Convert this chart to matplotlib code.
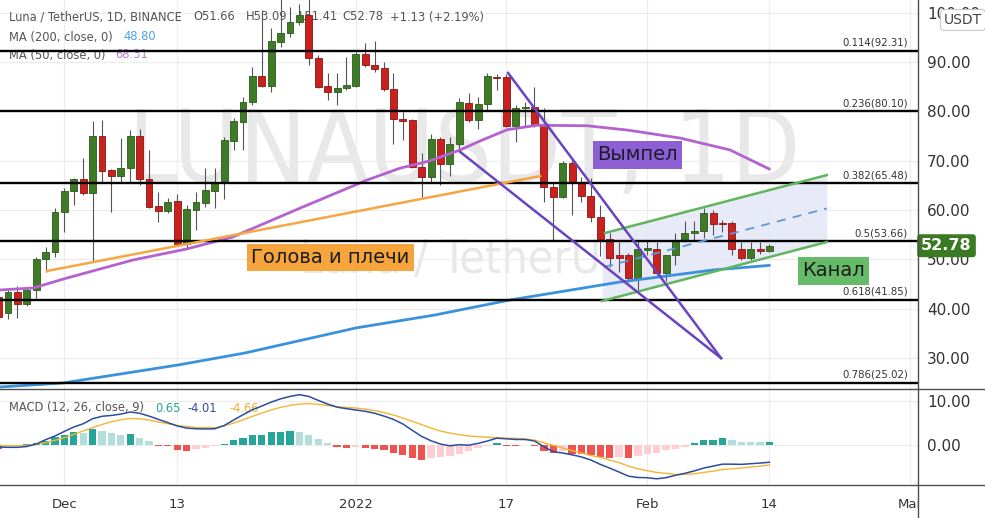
import matplotlib
matplotlib.use("Agg")
import matplotlib.pyplot as plt
import numpy as np
from matplotlib import font_manager
from matplotlib.lines import Line2D
from matplotlib.patches import Rectangle
from matplotlib.transforms import blended_transform_factory

W, H = 985, 518

# daily LUNA/USDT candles, index -1 = 2021-11-24 ... index 81 = 2022-02-14
FIRST = -1
opens = [42.4, 39.1, 43.4, 41.0, 43.8, 50.1, 51.5, 59.6, 63.9, 66.3,
         63.5, 75.0, 68.1, 66.9, 68.5, 75.0, 66.3, 60.8, 59.8, 61.8,
         53.1, 60.0, 61.4, 63.9, 65.5, 74.0, 77.9, 81.9, 87.2, 85.2,
         94.1, 95.9, 98.1, 99.5, 90.8, 85.2, 84.0, 84.8, 85.2, 91.6,
         89.4, 88.8, 84.5, 78.4, 78.2, 68.7, 66.7, 74.4, 69.3, 73.4,
         81.7, 78.2, 81.5, 87.0, 87.0, 77.0, 80.6, 80.9, 77.3, 64.7,
         62.7, 69.5, 65.7, 62.9, 58.6, 54.1, 50.9, 50.9, 46.2, 51.9,
         52.1, 47.2, 50.9, 53.9, 55.3, 55.8, 59.4, 57.3, 57.4, 52.1,
         50.3, 52.1, 51.66]
highs = [43.0, 43.8, 44.6, 44.3, 50.5, 52.5, 60.4, 64.5, 66.5, 70.6,
         78.1, 78.3, 68.3, 74.6, 76.2, 76.4, 72.2, 63.7, 62.5, 63.3,
         61.0, 63.7, 68.5, 68.5, 74.8, 78.7, 82.9, 89.0, 100.5, 96.9,
         102.8, 101.2, 101.8, 103.6, 91.5, 87.8, 87.8, 91.0, 92.0, 93.8,
         94.2, 90.0, 87.8, 79.9, 78.4, 71.6, 75.4, 74.8, 74.8, 82.7,
         83.7, 82.9, 87.8, 87.6, 87.6, 81.3, 81.9, 85.0, 80.7, 65.5,
         70.0, 70.2, 66.7, 66.5, 61.0, 55.3, 53.5, 51.3, 53.9, 53.9,
         53.5, 51.0, 55.3, 57.8, 57.8, 60.4, 60.0, 58.0, 57.8, 53.5,
         53.5, 53.5, 53.09]
lows = [37.6, 38.0, 38.1, 40.6, 42.2, 47.5, 50.5, 55.6, 61.0, 63.1,
        49.5, 65.7, 59.6, 65.7, 65.5, 65.1, 60.4, 57.6, 59.4, 52.7,
        52.3, 56.0, 60.6, 60.5, 62.2, 72.2, 72.2, 81.3, 85.0, 84.0,
        93.0, 95.1, 97.5, 89.4, 84.8, 82.3, 81.3, 84.3, 85.0, 89.0,
        88.0, 84.2, 73.4, 74.2, 68.5, 62.7, 65.7, 65.1, 66.9, 72.2,
        77.9, 76.4, 80.3, 84.4, 76.8, 73.8, 76.8, 76.8, 61.7, 53.9,
        62.5, 59.0, 61.7, 57.6, 50.7, 48.5, 47.5, 45.5, 43.8, 50.9,
        46.8, 45.6, 48.9, 53.5, 54.0, 54.3, 54.9, 55.6, 50.9, 49.9,
        49.9, 51.1, 51.41]
closes = [38.3, 43.4, 41.0, 43.8, 50.1, 51.5, 59.6, 63.9, 66.3, 63.5,
          75.0, 67.9, 66.9, 68.5, 75.0, 66.3, 60.6, 59.8, 61.6, 53.1,
          60.2, 61.6, 64.1, 65.5, 74.2, 78.1, 81.9, 87.2, 85.2, 94.3,
          95.9, 98.1, 99.5, 90.8, 85.0, 83.9, 84.8, 85.4, 91.6, 89.4,
          88.6, 84.5, 78.4, 78.0, 68.7, 66.7, 74.4, 69.3, 73.4, 81.9,
          78.2, 81.5, 87.2, 86.8, 77.0, 80.7, 80.8, 77.3, 64.7, 62.7,
          69.5, 65.5, 62.9, 58.6, 54.1, 50.3, 50.3, 46.2, 52.1, 52.3,
          47.2, 50.9, 53.9, 55.3, 55.8, 59.4, 57.2, 57.1, 52.1, 50.3,
          52.1, 51.65, 52.78]

# MACD(12, 26, 9)
macd = [-0.53, -0.6, -0.6, -0.4, 0.15, 1.15, 2.0, 3.05, 4.05, 4.8,
        5.95, 6.5, 6.7, 7.0, 7.5, 7.2, 6.55, 5.8, 5.05, 4.3,
        3.8, 3.65, 3.6, 3.65, 4.4, 5.65, 6.85, 8.0, 8.85, 9.75,
        10.5, 11.05, 11.45, 11.05, 10.15, 9.3, 8.6, 8.25, 7.95, 7.65,
        7.2, 6.55, 5.8, 4.75, 3.3, 1.9, 0.9, 0.15, -0.25, 0.0,
        -0.1, 0.3, 0.85, 1.5, 1.35, 1.2, 1.2, 0.85, -0.45, -1.6,
        -1.9, -2.3, -2.8, -3.5, -4.5, -5.35, -6.25, -7.2, -7.5, -7.55,
        -7.8, -7.55, -7.0, -6.55, -6.0, -5.35, -4.9, -4.45, -4.45, -4.5,
        -4.35, -4.2, -4.01]
signal = [-0.15, -0.25, -0.25, -0.15, 0.1, 0.45, 1.0, 1.6, 2.35, 3.15,
          3.9, 4.65, 5.25, 5.7, 6.0, 5.95, 5.65, 5.2, 4.8, 4.4,
          4.2, 3.95, 3.9, 3.9, 4.3, 4.95, 5.7, 6.5, 7.25, 7.95,
          8.55, 9.0, 9.3, 9.4, 9.25, 8.95, 8.7, 8.55, 8.4, 8.15,
          7.8, 7.35, 6.8, 6.1, 5.35, 4.6, 3.8, 3.15, 2.65, 2.3,
          2.0, 1.85, 1.7, 1.6, 1.5, 1.45, 1.35, 1.05, 0.45, -0.15,
          -0.75, -1.35, -1.9, -2.45, -2.9, -3.5, -4.1, -4.9, -5.5, -5.95,
          -6.35, -6.55, -6.8, -6.8, -6.65, -6.35, -6.05, -5.7, -5.5, -5.35,
          -5.1, -4.9, -4.66]
hist = [-0.9, -0.4, -0.2, 0.1, 0.4, 0.75, 1.75, 2.3, 2.9, 2.65,
        3.5, 3.05, 2.65, 2.3, 2.35, 1.6, 0.75, -0.25, -0.4, -1.3,
        -1.35, -0.9, -0.7, -0.4, 0.07, 1.0, 1.6, 2.15, 2.3, 2.8,
        3.0, 3.05, 2.9, 2.15, 1.2, 0.3, -0.55, -0.7, -0.6, -0.75,
        -1.05, -1.3, -1.85, -2.45, -3.05, -3.6, -3.05, -2.8, -2.65, -2.2,
        -1.45, -0.7, -0.3, 0.4, -0.25, -0.28, -0.15, -0.4, -1.45, -1.8,
        -1.45, -2.15, -2.2, -2.45, -2.75, -3.0, -2.9, -3.05, -2.6, -2.2,
        -1.85, -1.3, -0.9, -0.55, 0.4, 1.0, 1.15, 1.5, 1.0, 0.7,
        0.6, 0.58, 0.65]

# moving averages, read as (bar index, value) vertices
ma200_x = [-0.85, 5.85, 18.1, 25.2, 37.0, 45.4, 53.4, 65.1, 75.0, 81.0]
ma200_y = [24.15, 24.96, 28.61, 31.04, 36.11, 38.74, 41.78, 45.43, 47.86, 48.80]
ma50_x = [-0.85, 2.66, 6.28, 13.3, 19.0, 23.9, 31.1, 38.2, 41.7, 44.9,
          48.1, 50.2, 53.1, 56.3, 61.6, 66.0, 71.5, 76.8, 81.0]
ma50_y = [43.81, 44.21, 46.24, 49.89, 52.12, 54.55, 60.43, 66.1, 68.5, 70.0,
          72.2, 74.0, 76.3, 77.2, 77.1, 76.2, 74.6, 72.2, 68.31]

fib_ratio = ["0.114", "0.236", "0.382", "0.5", "0.618", "0.786"]
fib_price = [92.31, 80.10, 65.48, 53.66, 41.85, 25.02]

# drawings: (x0, y0, x1, y1) in bar index / price
neckline = (4.15, 47.66, 56.6, 66.9)
pennant_a = (53.2, 87.8, 75.85, 30.0)
pennant_b = (48.1, 71.8, 75.85, 30.0)
chan_up = (63.5, 55.36, 87.1, 67.1)
chan_lo = (63.2, 41.58, 87.1, 53.54)
chan_mid = (63.4, 48.47, 87.1, 60.33)

tick_pos = [6, 18, 37, 53, 68, 81, 96]
tick_lab = ["Dec", "13", "2022", "17", "Feb", "14", "Mar"]


def fx(px):
    return px / W


def fy(py):
    return 1 - py / H


condensed = any(f.name == "DejaVu Sans" and f.stretch == "condensed"
                for f in font_manager.fontManager.ttflist)
WM_KW = dict(family="DejaVu Sans", fontstretch="condensed") if condensed else dict(family="Liberation Sans")

fig = plt.figure(figsize=(W / 100, H / 100), dpi=100)
ax = fig.add_axes([0, fy(389), fx(918), fy(0) - fy(389)])
axm = fig.add_axes([0, fy(485), fx(918), fy(389) - fy(485)], sharex=ax)

ax.set_xlim(-0.85, 96.8)
ax.set_ylim(23.74, 102.59)
axm.set_ylim(-9.22, 12.75)

for a in (ax, axm):
    for s in a.spines.values():
        s.set_visible(False)
    a.grid(True, color="#ececec", lw=0.8, zorder=0)
    a.set_axisbelow(True)
    a.yaxis.tick_right()
    a.tick_params(axis="y", length=0, pad=6.5, labelsize=11, labelcolor="#333333")

ax.set_yticks(range(30, 101, 10))
ax.set_yticklabels([f"{v:.2f}" for v in range(30, 101, 10)])
axm.set_yticks([0, 10])
axm.set_yticklabels(["0.00", "10.00"])
axm.set_xticks(tick_pos)
axm.set_xticklabels(tick_lab)
axm.tick_params(axis="x", length=0, pad=9, labelsize=9.5, labelcolor="#333333")
ax.tick_params(axis="x", length=0, labelbottom=False)

# watermark, sized so the big line spans ~672 px like the screenshot
wm1 = ax.text(48.5, 65.6, "LUNAUSDT, 1D", ha="center", va="baseline", fontsize=82,
              color="#e8e8e8", zorder=0.5, **WM_KW)
wm2 = ax.text(48.5, 47.3, "Luna / TetherUS", ha="center", va="baseline", fontsize=38,
              color="#e8e8e8", zorder=0.5, **WM_KW)
fig.canvas.draw()
k = 672 / wm1.get_window_extent().width
wm1.set_fontsize(82 * k)
wm2.set_fontsize(max(38 * k, 32))

# candles
o, hi, lo, c = map(np.array, (opens, highs, lows, closes))
x = np.arange(len(c)) + FIRST
up = c >= o
ax.vlines(x, lo, hi, color="#555555", lw=0.8, zorder=3)
ax.bar(x, np.maximum(np.abs(c - o), 0.18), bottom=np.minimum(o, c), width=0.74,
       color=np.where(up, "#3f7a27", "#c9211e"),
       edgecolor=np.where(up, "#2b5a1a", "#8a1414"), linewidth=0.6, zorder=3.2)

# moving averages
ax.plot(ma200_x, ma200_y, color="#3b92dc", lw=2.0, zorder=3.5, solid_capstyle="round")
ax.plot(ma50_x, ma50_y, color="#b462cf", lw=2.0, zorder=3.5, solid_capstyle="round")

# fibonacci levels
yblend = blended_transform_factory(ax.transAxes, ax.transData)
for r, p in zip(fib_ratio, fib_price):
    ax.axhline(p, color="black", lw=1.7, zorder=4)
    ax.annotate(f"{r}({p:.2f})", xy=(0.989, p), xycoords=yblend, xytext=(0, 2),
                textcoords="offset points", ha="right", va="bottom", fontsize=7.3,
                color="#333333", zorder=5)

# channel
ax.fill_between([chan_lo[0], chan_lo[2]], [chan_lo[1], chan_lo[3]],
                [chan_up[1] - 0.1, chan_up[3]], color="#e4e7f6", alpha=0.85, lw=0, zorder=1)
for seg in (chan_up, chan_lo):
    ax.plot([seg[0], seg[2]], [seg[1], seg[3]], color="#5fb65c", lw=1.8, zorder=4.2)
ax.plot([chan_mid[0], chan_mid[2]], [chan_mid[1], chan_mid[3]], color="#5b9bd5",
        lw=1.3, ls=(0, (5, 4)), zorder=4.1)

# head & shoulders neckline and pennant
ax.plot([neckline[0], neckline[2]], [neckline[1], neckline[3]], color="#f4a742", lw=1.8, zorder=4.2)
for seg in (pennant_a, pennant_b):
    ax.plot([seg[0], seg[2]], [seg[1], seg[3]], color="#6a44c0", lw=1.8, zorder=4.2)

ax.text(34.3, 50.4, "Голова и плечи", ha="center", va="center", fontsize=14, color="#1c1c1c",
        bbox=dict(boxstyle="square,pad=0.22", fc="#f5a53c", ec="none"), zorder=6)
ax.text(67.0, 71.2, "Вымпел", ha="center", va="center", fontsize=14, color="#1c1c2a",
        bbox=dict(boxstyle="square,pad=0.22", fc="#8c5fd4", ec="none"), zorder=6)
ax.text(87.8, 47.7, "Канал", ha="center", va="center", fontsize=14, color="#1c1c1c",
        bbox=dict(boxstyle="square,pad=0.22", fc="#66bb69", ec="none"), zorder=6)

# last price tag
ax.text(1.0035, closes[-1], f"{closes[-1]:.2f}", transform=yblend, ha="left", va="center",
        fontsize=11.5, color="white", fontweight="bold", clip_on=False,
        bbox=dict(boxstyle="round,pad=0.25,rounding_size=0.2", fc="#3a7a22", ec="none"), zorder=8)

# header legend
hdr = dict(transform=fig.transFigure, fontsize=8.3, va="center", ha="left", zorder=1)
gray = "#555555"
ax.text(fx(9), fy(17), "Luna / TetherUS, 1D, BINANCE", color=gray, **hdr)
for px, s in [(193, "O51.66"), (246, "H53.09"), (299, "L51.41"), (342, "C52.78"),
              (390, "+1.13 (+2.19%)")]:
    ax.text(fx(px), fy(17), s, color=gray, **hdr)
ax.text(fx(9), fy(37), "MA (200, close, 0)", color=gray, **hdr)
ax.text(fx(123), fy(37), "48.80", color="#4ba2e2", **hdr)
ax.text(fx(9), fy(55), "MA (50, close, 0)", color=gray, **hdr)
ax.text(fx(115), fy(55), "68.31", color="#b47fd2", **hdr)

# MACD pane
h = np.array(hist)
prev = np.concatenate([[h[0] + 1], h[:-1]])
cols = np.where(h >= 0, np.where(h >= prev, "#26a69a", "#b2dfdb"),
                np.where(h >= prev, "#ffcdd2", "#ef5350"))
axm.bar(x, h, width=0.78, color=cols, zorder=2)
axm.plot(x, signal, color="#f2b632", lw=1.0, zorder=3)
axm.plot(x, macd, color="#2c4c9e", lw=1.1, zorder=3.1)
mh = dict(transform=fig.transFigure, fontsize=8.3, va="center", ha="left", zorder=1)
axm.text(fx(9), fy(408), "MACD (12, 26, close, 9)", color=gray, **mh)
axm.text(fx(155), fy(408), "0.65", color="#26a69a", **mh)
axm.text(fx(188), fy(408), "-4.01", color="#2c4c9e", **mh)
axm.text(fx(230), fy(408), "-4.66", color="#e8b028", **mh)

# panel frame, price-scale corner
fig.add_artist(Rectangle((fx(918), 0), 1 - fx(918), fy(485), transform=fig.transFigure,
                         fc="white", ec="none", zorder=5))
for yy in (389, 485):
    fig.add_artist(Line2D([0, 1], [fy(yy)] * 2, color="#4d4d4d", lw=1.0, zorder=6))
fig.add_artist(Line2D([fx(918)] * 2, [0, 1], color="#4d4d4d", lw=1.0, zorder=6))
fig.text(fx(963), fy(20), "USDT", ha="center", va="center", fontsize=10, color="#444444",
         bbox=dict(boxstyle="round,pad=0.25,rounding_size=0.3", fc="white", ec="#c8c8c8", lw=0.8),
         zorder=9)

fig.savefig("out.png", dpi=100, facecolor="white")
